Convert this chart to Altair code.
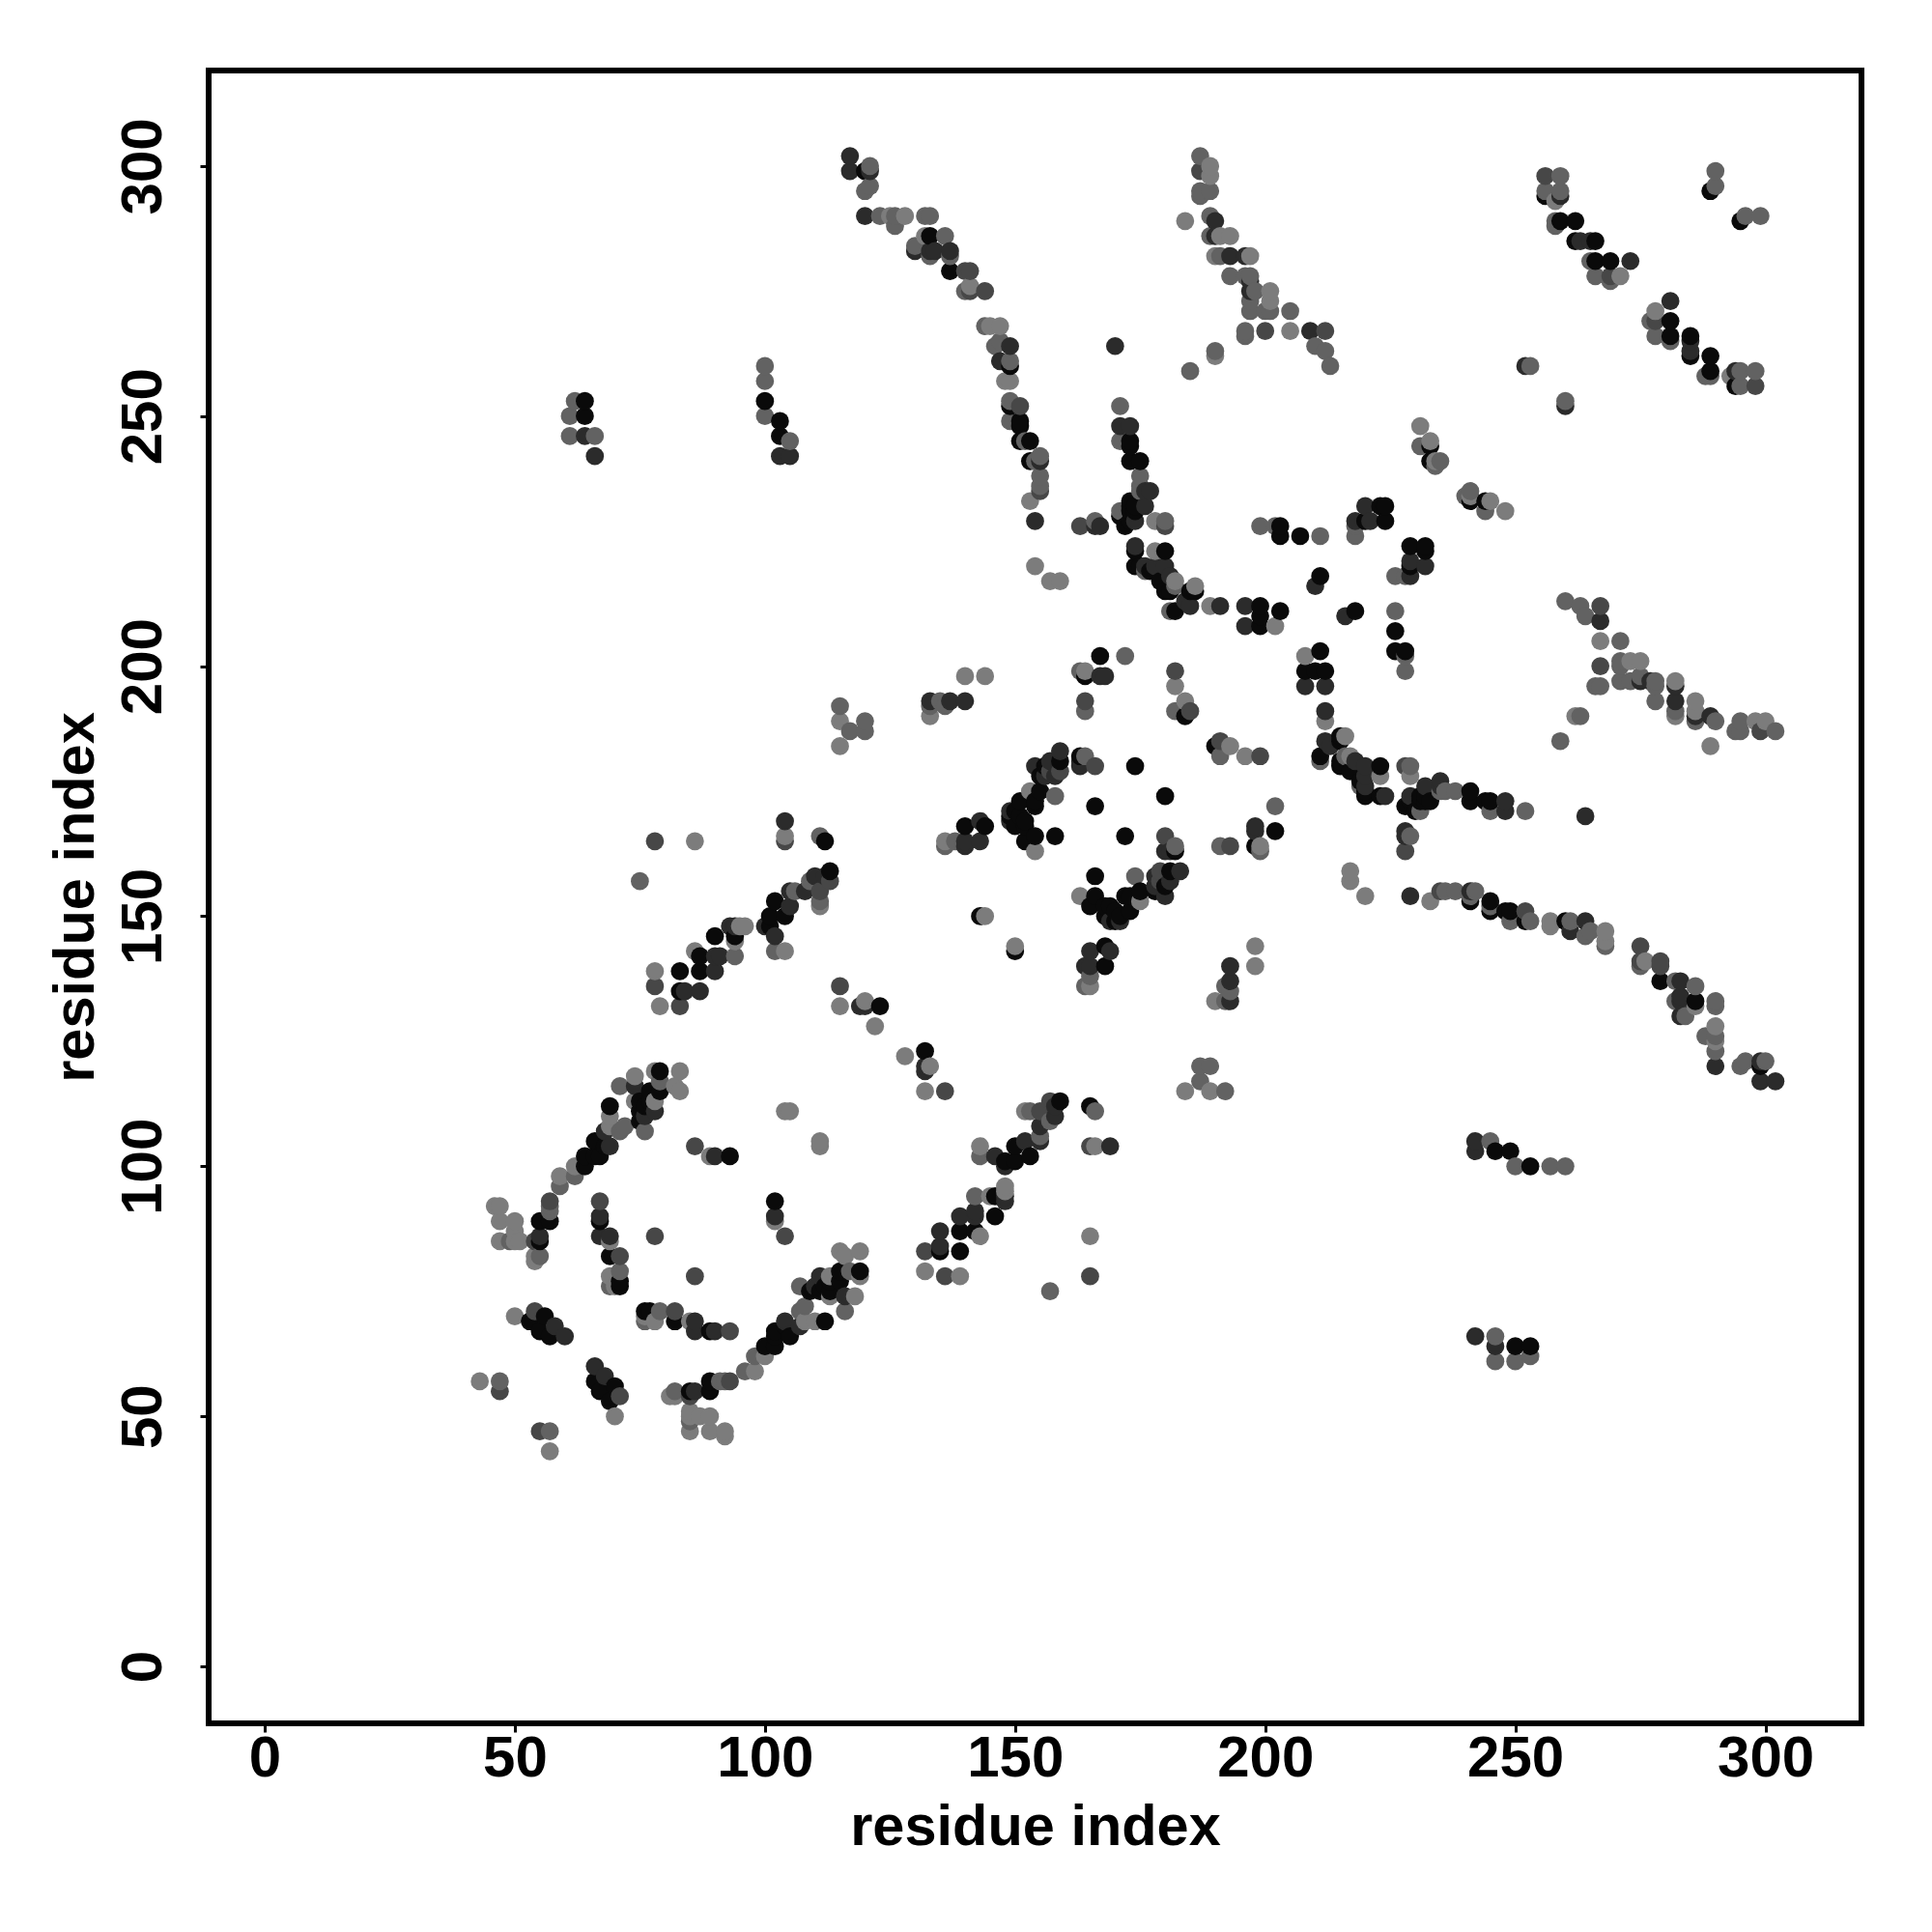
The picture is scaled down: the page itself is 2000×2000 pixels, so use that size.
import altair as alt
import pandas as pd

# Residue pairs (i < j), grouped by grey level; the map is symmetric.
black = [(53,69),(56,70),(55,67),(57,66),(55,85),(55,89),(57,89),(64,100),(64,102),(66,102),(66,105),(67,102),(68,104),
 (69,112),(75,113),(75,111),(75,109),(76,112),(77,115),(77,113),(79,119),(79,115),(67,89),(71,77),(71,76),(69,82),(93,102),
 (112,165),(83,139),(83,135),(87,139),(87,142),(90,146),(94,146),(101,148),(101,150),(102,153),(104,150),(113,159),(123,132),(132,123),
 (140,168),(144,168),(149,170),(150,168),(150,171),(151,173),(151,170),(152,169),(152,165),(152,168),(154,166),(158,166),(154,172),(154,173),
 (155,175),(155,178),(156,180),(159,181),(163,182),(174,180),(166,172),(143,150),(164,198),(167,202),
 (120,299),(133,286),(137,279),(149,260),(149,252),(151,249),(151,248),(151,245),(153,245),(153,241),
 (173,245),(173,241),(175,241),(173,233),(173,231),(174,232),(172,228),(173,229),(171,230),(174,223),(180,223),(174,220),(179,217),(180,215),(185,215),(186,215),
 (182,211),(181,215),(177,219),(175,220),(174,231),(173,232),(173,244),(199,212),(199,208),(199,210),(203,211),(203,228),(203,226),(207,226),(211,218),
 (220,229),(223,232),(224,229),(224,232),(184,190),(256,294),(259,289),(262,289),(262,285),(266,285),(266,281),(269,281),(289,295),(294,256),
 (64,253),(64,250),(100,253),(103,249),(103,246),(233,244),(233,241)]
dark = [(58,68),(60,66),(55,86),(68,107),(69,104),(74,116),(76,110),(78,111),(69,86),(67,86),(67,90),(90,102),
 (104,169),(84,135),(87,135),(90,139),(90,142),(91,142),(93,148),(94,148),(100,148),(102,146),(105,152),(105,155),(108,155),(110,158),(112,158),
 (119,132),(132,120),(133,193),(137,193),(140,193),(140,165),(143,165),(143,169),(140,164),(149,171),(149,169),(154,180),(156,178),(157,181),(158,178),(159,183),(163,180),(163,181),
 (167,198),(168,198),(117,302),(117,299),(121,299),(120,290),(130,283),(133,283),(134,283),(137,283),(149,264),(147,261),(155,241),
 (154,229),(167,228),(166,228),(170,264),(171,248),(173,248),(176,235),(177,235),(176,232),(174,229),(174,224),(176,220),(178,220),(180,220),(184,213),(185,212),(181,218),
 (191,212),(196,212),(196,208),(210,216),(218,229),(220,232),(221,229),(190,289),(190,286),(193,282),(196,282),(197,277),(197,275),(209,267),
 (259,294),(265,285),(273,281),(281,273),(263,285),(252,260),(260,252),(64,246),(103,242),(105,242),(66,242)]
middark = [(47,55),(54,71),(54,85),(57,93),(67,93),(71,82),(78,86),(86,104),(78,136),(78,165),(104,165),(111,155),(113,157),(115,136),(136,115),
 (83,132),(157,179),(159,179),(164,193),(182,199),(185,191),(151,252),(141,279),(140,279),(141,275),(144,275),(155,235),(163,228),(180,228),
 (187,299),(200,267),(212,267),(256,298),(278,269),(294,259),(298,256),(180,166)]
mid = [(47,57),(49,85),(55,82),(57,92),(57,91),(59,96),(62,98),(71,107),(72,108),(71,116),(76,107),(79,117),(69,76),(71,79),
 (75,157),(111,166),(94,142),(102,143),(106,155),(109,157),(111,153),(136,164),(138,165),(158,174),(164,182),(166,180),(163,199),(172,202),(164,191),
 (133,192),(136,192),(135,193),(115,192),(117,187),(120,189),(120,187),(182,191),(121,300),(121,296),(120,295),(123,290),(126,290),(126,288),(132,290),(133,290),
 (136,286),(130,284),(133,282),(137,282),(140,275),(144,268),(146,264),(147,265),(149,261),(149,253),(149,249),(152,245),(155,242),(154,241),(155,238),(155,236),
 (166,229),(171,252),(171,245),(175,238),(175,235),(171,231),(180,229),(176,219),(182,216),(181,211),(175,236),(199,228),(202,228),(211,226),(218,226),(218,228),
 (187,302),(187,295),(187,294),(189,295),(189,290),(189,286),(191,282),(193,278),(197,278),(196,278),(198,275),(197,273),(197,271),(201,271),(200,271),(205,271),(196,267),(196,266),
 (190,263),(185,259),(210,264),(212,263),(213,260),(259,298),(256,295),(259,295),(258,289),(265,281),(266,278),(269,278),(269,277),(278,266),(281,265),(258,288),(295,259),(295,256),(298,259),
 (290,299),(290,296),(296,290),(253,260),(61,250),(61,246),(62,253),(66,246),(100,260),(100,257),(100,250),(105,245),(231,244),(234,240),(235,241)]
light = [(43,57),(50,70),(46,92),(47,92),(47,89),(50,89),(50,87),(47,85),(50,85),(51,85),(54,82),(54,81),(59,98),(62,100),(69,110),(69,108),(74,118),(74,113),(78,113),(78,119),(83,119),(82,116),(83,115),
 (69,85),(69,78),(70,76),(89,102),(104,111),(105,111),(86,165),(104,166),(111,152),(78,139),(79,132),(86,143),(94,145),(95,148),(96,148),(104,143),(115,132),(120,133),(122,128),(128,122),(133,120),(132,115),
 (115,189),(115,184),(133,190),(140,198),(144,198),(136,165),(154,163),(153,175),(144,150),(164,199),(182,196),(184,193),(154,220),(157,217),(159,217),
 (125,290),(128,290),(132,286),(141,276),(145,268),(147,268),(148,257),(149,257),(153,233),(178,229),(178,223),(182,217),(186,216),(189,212),(202,208),
 (189,300),(189,298),(184,289),(191,286),(193,286),(190,282),(197,282),(201,275),(201,273),(205,267),(190,262),(258,293),(271,278),(278,271),(277,269),(293,258),(231,248),(233,245),(234,241)]

shades = {"#0a0a0a": black, "#2b2b2b": dark, "#474747": middark, "#626262": mid, "#7c7c7c": light}
rows = []
for colour, pairs in shades.items():
    for i, j in pairs:
        rows.append({"x": i, "y": j, "c": colour})
        rows.append({"x": j, "y": i, "c": colour})
df = pd.DataFrame(rows).drop_duplicates(subset=["x", "y"]).sort_values(["x", "y"])

font = "Liberation Sans"
ticks = [0, 50, 100, 150, 200, 250, 300]
chart = alt.Chart(df).mark_circle(size=350, opacity=1).encode(
    x=alt.X("x:Q", scale=alt.Scale(domain=[-11.2, 319.2], nice=False, zero=False),
            axis=alt.Axis(title="residue index", values=ticks, grid=False, domain=False, tickSize=9, tickWidth=3, tickColor="black",
                          labelFont=font, labelFontSize=60, labelFontWeight="bold", labelColor="black", labelPadding=-2, labelFlush=False,
                          titleFont=font, titleFontSize=59.5, titleFontWeight="bold", titleColor="black", titlePadding=12)),
    y=alt.Y("y:Q", scale=alt.Scale(domain=[-11.4, 319.1], nice=False, zero=False),
            axis=alt.Axis(title="residue index", values=ticks, grid=False, domain=False, tickSize=9, tickWidth=3, tickColor="black",
                          labelFont=font, labelFontSize=60, labelFontWeight="bold", labelColor="black", labelAngle=270, labelAlign="center", labelBaseline="bottom", labelPadding=28, labelFlush=False,
                          titleFont=font, titleFontSize=59.5, titleFontWeight="bold", titleColor="black", titlePadding=10)),
    color=alt.Color("c:N", scale=None),
    order=alt.value(0),
).properties(width=1711, height=1711, padding={"left": 208, "top": 65, "right": 60, "bottom": 200},
             autosize=alt.AutoSizeParams(type="none"), background="white"
).configure_view(stroke="black", strokeWidth=6)
chart.save("out.html", embed_options={"renderer": "svg", "actions": False})
